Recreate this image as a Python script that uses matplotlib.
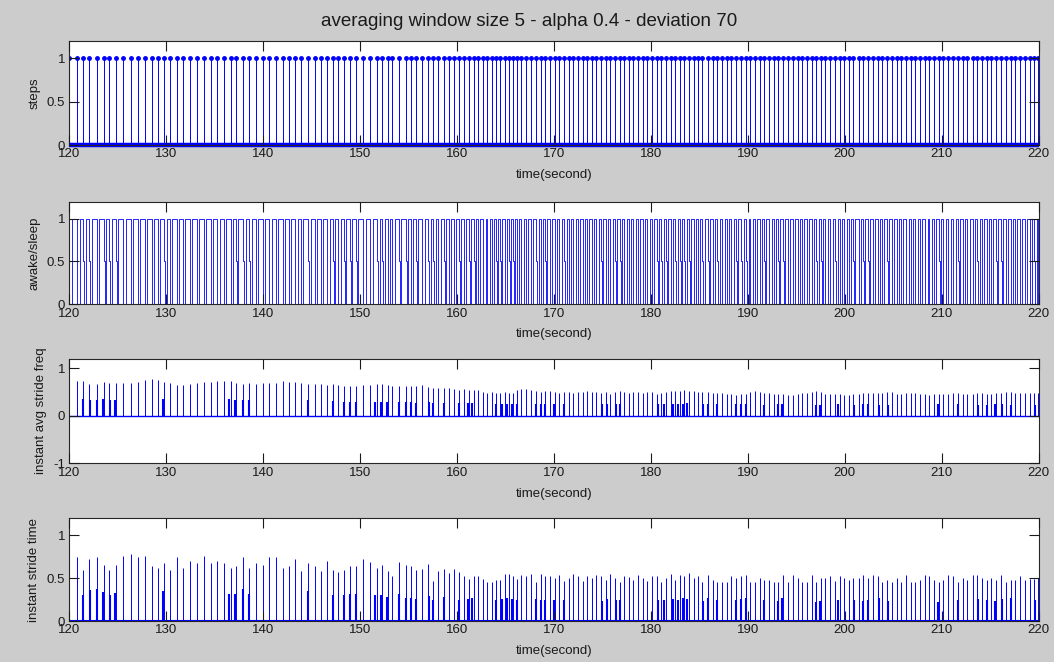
import matplotlib.pyplot as plt
import numpy as np

plt.rcParams['font.family'] = ['Liberation Sans', 'DejaVu Sans']

# step instants (seconds)
step_t = [120.0, 120.83, 121.44, 122.06, 122.82, 123.58, 124.13, 124.82, 125.57, 126.33,
          127.05, 127.81, 128.50, 129.12, 129.80, 130.39, 131.08, 131.70, 132.45, 133.14,
          133.90, 134.59, 135.27, 135.96, 136.65, 137.20, 137.96, 138.58, 139.26, 139.95,
          140.64, 141.33, 142.02, 142.64, 143.32, 143.91, 144.66, 145.35, 145.97, 146.63,
          147.18, 147.76, 148.35, 148.96, 149.58,
          150.34, 151.06, 151.78, 152.29, 152.84, 153.33, 154.02, 154.71, 155.22, 155.74,
          156.43, 157.04, 157.56, 158.08, 158.66, 159.18, 159.69, 160.21, 160.72, 161.24,
          161.75, 162.16, 162.71, 163.13, 163.57, 164.02, 164.43, 164.91, 165.36, 165.77,
          166.15, 166.63, 167.11, 167.59, 168.18, 168.63, 169.07, 169.59,
          170.06, 170.55, 171.05, 171.52, 172.0, 172.46, 172.95, 173.42, 173.9, 174.38,
          174.86, 175.33, 175.8, 176.3, 176.78, 177.25, 177.72, 178.2, 178.68, 179.16,
          179.64, 180.12, 180.6, 181.08, 181.55, 182.02, 182.5, 182.98, 183.45, 183.93,
          184.4, 184.85,
          185.30, 185.88, 186.40, 186.84, 187.36, 187.80, 188.28, 188.77, 189.31, 189.83,
          190.27, 190.72, 191.24, 191.68, 192.20, 192.68, 193.12, 193.64, 194.12, 194.63,
          195.15, 195.59, 196.11, 196.62, 197.07, 197.55, 197.99, 198.51, 199.02, 199.47,
          199.95, 200.39, 200.84, 201.42, 201.87, 202.38, 202.86, 203.38, 203.82, 204.34,
          204.85, 205.37, 205.81, 206.33, 206.81, 207.26, 207.77, 208.29, 208.73, 209.21,
          209.69, 210.17, 210.69, 211.20, 211.65, 212.16, 212.64, 213.19, 213.67, 214.12,
          214.63, 215.08, 215.59, 216.11, 216.62, 217.10, 217.55, 218.06, 218.58, 219.09,
          219.54, 219.95]

# instant avg stride freq at each step
freq_h = [0.73, 0.73, 0.73, 0.68, 0.68, 0.71, 0.69, 0.69, 0.69, 0.69,
          0.71, 0.75, 0.77, 0.75, 0.71, 0.69, 0.65, 0.66, 0.67, 0.69,
          0.71, 0.71, 0.73, 0.73, 0.73, 0.69, 0.67, 0.69, 0.67, 0.69,
          0.69, 0.69, 0.73, 0.71, 0.71, 0.69, 0.67, 0.67, 0.67, 0.65,
          0.67, 0.65, 0.63, 0.63, 0.63,
          0.66, 0.66, 0.68, 0.67, 0.66, 0.63, 0.63, 0.64, 0.62, 0.63,
          0.65, 0.60, 0.59, 0.59, 0.58, 0.59, 0.57, 0.55, 0.56, 0.55,
          0.54, 0.55, 0.50, 0.49, 0.50, 0.48, 0.49, 0.50, 0.48, 0.49,
          0.55, 0.56, 0.56, 0.55, 0.52, 0.51, 0.53, 0.52,
          0.50, 0.49, 0.51, 0.50, 0.48, 0.50, 0.50, 0.52, 0.51, 0.50,
          0.48, 0.50, 0.47, 0.50, 0.52, 0.50, 0.49, 0.50, 0.51, 0.48,
          0.50, 0.50, 0.47, 0.48, 0.50, 0.52, 0.53, 0.52, 0.54, 0.53,
          0.52, 0.50,
          0.50, 0.50, 0.48, 0.48, 0.48, 0.47, 0.47, 0.45, 0.47, 0.47,
          0.50, 0.52, 0.50, 0.48, 0.48, 0.47, 0.47, 0.47, 0.45, 0.45,
          0.47, 0.48, 0.48, 0.50, 0.52, 0.50, 0.47, 0.47, 0.47, 0.47,
          0.45, 0.45, 0.47, 0.47, 0.48, 0.48, 0.48, 0.49, 0.49, 0.50,
          0.50, 0.46, 0.46, 0.48, 0.48, 0.48, 0.47, 0.47, 0.45, 0.47,
          0.47, 0.47, 0.47, 0.49, 0.49, 0.47, 0.47, 0.47, 0.49, 0.49,
          0.46, 0.46, 0.49, 0.49, 0.50, 0.50, 0.48, 0.48, 0.48, 0.49,
          0.49, 0.49]

# instant stride time at each step
stride_h = [0.62, 0.75, 0.60, 0.72, 0.75, 0.66, 0.60, 0.66, 0.76, 0.78,
            0.75, 0.76, 0.64, 0.62, 0.68, 0.60, 0.75, 0.62, 0.70, 0.68,
            0.76, 0.68, 0.70, 0.68, 0.62, 0.64, 0.75, 0.62, 0.68, 0.66,
            0.75, 0.75, 0.62, 0.64, 0.72, 0.58, 0.68, 0.64, 0.58, 0.70,
            0.60, 0.57, 0.60, 0.64, 0.64,
            0.73, 0.69, 0.62, 0.66, 0.58, 0.52, 0.69, 0.65, 0.64, 0.60,
            0.61, 0.67, 0.47, 0.58, 0.61, 0.56, 0.61, 0.57, 0.52, 0.49,
            0.52, 0.52, 0.49, 0.45, 0.45, 0.48, 0.48, 0.55, 0.55, 0.52,
            0.49, 0.54, 0.52, 0.55, 0.45, 0.55, 0.52, 0.53,
            0.50, 0.54, 0.47, 0.50, 0.55, 0.52, 0.47, 0.53, 0.50, 0.54,
            0.52, 0.48, 0.55, 0.50, 0.46, 0.53, 0.51, 0.48, 0.54, 0.50,
            0.47, 0.52, 0.53, 0.46, 0.50, 0.55, 0.48, 0.54, 0.52, 0.56,
            0.50, 0.53,
            0.46, 0.54, 0.48, 0.46, 0.46, 0.45, 0.52, 0.50, 0.52, 0.54,
            0.46, 0.46, 0.50, 0.48, 0.48, 0.45, 0.46, 0.54, 0.46, 0.54,
            0.50, 0.45, 0.45, 0.54, 0.45, 0.50, 0.50, 0.52, 0.47, 0.52,
            0.50, 0.48, 0.50, 0.50, 0.54, 0.50, 0.54, 0.52, 0.45, 0.48,
            0.45, 0.50, 0.45, 0.54, 0.45, 0.45, 0.48, 0.54, 0.52, 0.48,
            0.45, 0.48, 0.54, 0.52, 0.45, 0.50, 0.48, 0.54, 0.54, 0.50,
            0.48, 0.50, 0.48, 0.54, 0.45, 0.48, 0.48, 0.52, 0.48, 0.49,
            0.49, 0.50]

# short (half-height) events
small_t = [121.38, 122.13, 122.89, 123.51, 124.20, 124.75, 129.70, 136.51, 137.13, 137.89,
           138.58, 144.60, 147.18, 148.30, 148.96, 149.58, 151.54, 152.16, 152.77, 154.02,
           154.71, 155.22, 155.74, 157.11, 157.56, 158.66, 160.21, 161.13, 161.58, 164.02,
           164.67, 165.19, 165.71, 166.15, 168.18, 168.63, 169.07, 170.0, 171.03, 174.91,
           175.43, 176.36, 176.80, 180.76, 181.34, 182.27, 182.82, 183.30, 183.75, 185.36,
           185.88, 186.84, 188.73, 189.25, 189.76, 191.65, 193.09, 193.53, 197.03, 197.41,
           199.26, 200.91, 201.87, 202.35, 203.48, 204.41, 209.66, 211.65, 213.70, 214.63,
           215.49, 216.18, 217.10, 219.61]
small_freq = [0.36, 0.33, 0.33, 0.35, 0.33, 0.33, 0.36, 0.36, 0.33, 0.33,
              0.33, 0.33, 0.31, 0.29, 0.29, 0.29, 0.30, 0.30, 0.29, 0.29,
              0.30, 0.30, 0.28, 0.29, 0.28, 0.28, 0.27, 0.28, 0.28, 0.25,
              0.25, 0.25, 0.25, 0.26, 0.26, 0.25, 0.26, 0.25, 0.25, 0.26,
              0.26, 0.25, 0.25, 0.25, 0.25, 0.26, 0.26, 0.26, 0.27, 0.25,
              0.26, 0.25, 0.25, 0.25, 0.25, 0.24, 0.25, 0.25, 0.24, 0.24,
              0.25, 0.24, 0.25, 0.25, 0.24, 0.24, 0.25, 0.25, 0.24, 0.24,
              0.25, 0.25, 0.24, 0.24]
small_stride = [0.30, 0.36, 0.37, 0.34, 0.30, 0.33, 0.35, 0.31, 0.32, 0.37,
                0.31, 0.35, 0.30, 0.30, 0.31, 0.31, 0.30, 0.30, 0.28, 0.31,
                0.27, 0.27, 0.26, 0.29, 0.25, 0.28, 0.25, 0.26, 0.27, 0.25,
                0.26, 0.27, 0.26, 0.25, 0.26, 0.24, 0.25, 0.24, 0.25, 0.23,
                0.26, 0.25, 0.24, 0.24, 0.25, 0.26, 0.25, 0.27, 0.26, 0.23,
                0.27, 0.24, 0.25, 0.26, 0.27, 0.24, 0.23, 0.27, 0.22, 0.23,
                0.24, 0.25, 0.23, 0.25, 0.27, 0.23, 0.22, 0.24, 0.26, 0.25,
                0.23, 0.26, 0.27, 0.24]

title = 'averaging window size 5 - alpha 0.4 - deviation 70'
ylabels = ['steps', 'awake/sleep', 'instant avg stride freq', 'instant stride time']

BLUE = (0, 0, 1)
BG = '#cccccc'

fig = plt.figure(figsize=(10.54, 6.62), dpi=100, facecolor=BG)

W, H = 1054, 662
boxes = [(69.3, 41, 1038.7, 145), (69.3, 201.5, 1038.7, 304.3),
         (69.3, 359, 1038.7, 463.3), (69.3, 518.3, 1038.7, 621)]
axes = []
for x0, y0, x1, y1 in boxes:
    axes.append(fig.add_axes([x0 / W, 1 - y1 / H, (x1 - x0) / W, (y1 - y0) / H]))

# panel 1: stem plot of the step signal
ax = axes[0]
ax.vlines(step_t, 0, 1, color=BLUE, lw=0.7)
ax.plot(step_t, np.ones(len(step_t)), '.', color=BLUE, ms=5)
ax.plot([120, 220], [0, 0], color=BLUE, lw=3.2, clip_on=False, solid_capstyle='butt')
ax.set_ylim(0, 1.2)
ax.set_yticks([0, 0.5, 1])

# panel 2: awake/sleep trace, drops to 0 after each step,
# passing through 0.5 where a short event sits next to the step
small_arr = np.array(small_t)
xs, ys = [120], [1]
for t in step_t:
    if np.min(np.abs(small_arr - t)) < 0.3:
        xs += [t, t, t + 0.08, t + 0.08, t + 0.24, t + 0.24]
        ys += [1, 0.5, 0.5, 0, 0, 1]
    else:
        xs += [t, t, t + 0.24, t + 0.24]
        ys += [1, 0, 0, 1]
xs.append(220)
ys.append(1)
ax = axes[1]
ax.plot(xs, ys, color=BLUE, lw=0.6)
ax.set_ylim(0, 1.2)
ax.set_yticks([0, 0.5, 1])

# panel 3: instant avg stride freq
ax = axes[2]
ax.vlines(step_t, 0, freq_h, color=BLUE, lw=0.7)
ax.vlines(small_t, 0, small_freq, color=BLUE, lw=1.5)
ax.plot([120, 220], [0, 0], color=BLUE, lw=1)
ax.set_ylim(-1, 1.2)
ax.set_yticks([-1, 0, 1])

# panel 4: instant stride time
ax = axes[3]
ax.vlines(step_t, 0, stride_h, color=BLUE, lw=0.7)
ax.vlines(small_t, 0, small_stride, color=BLUE, lw=1.5)
ax.plot([120, 220], [0, 0], color=BLUE, lw=1.5)
ax.set_ylim(0, 1.2)
ax.set_yticks([0, 0.5, 1])

label_x = [-0.030, -0.030, -0.0235, -0.030]
for ax, lab, lx in zip(axes, ylabels, label_x):
    ax.set_facecolor('white')
    ax.set_xlim(120, 220)
    ax.set_xticks(range(120, 221, 10))
    ax.set_axisbelow(False)
    ax.tick_params(direction='in', length=7, width=0.8, top=True, right=True,
                   labelsize=9.5, labelcolor='#1a1a1a', color='#1a1a1a', pad=2.5)
    ax.tick_params(axis='y', pad=3)
    for s in ax.spines.values():
        s.set_color('#262626')
        s.set_linewidth(0.8)
    ax.set_ylabel(lab, fontsize=9.5, color='#1a1a1a')
    ax.yaxis.set_label_coords(lx, 0.5)
    ax.set_xlabel('time(second)', fontsize=9.5, color='#1a1a1a')
    ax.xaxis.set_label_coords(0.5, -0.235)
    ax.yaxis.set_major_formatter(plt.FuncFormatter(lambda v, p: f'{v:g}'))

fig.text(529 / W, 1 - 21 / H, title, ha='center', va='center', fontsize=13.5, color='#1a1a1a')

fig.savefig('out.png', dpi=100, facecolor=BG)
